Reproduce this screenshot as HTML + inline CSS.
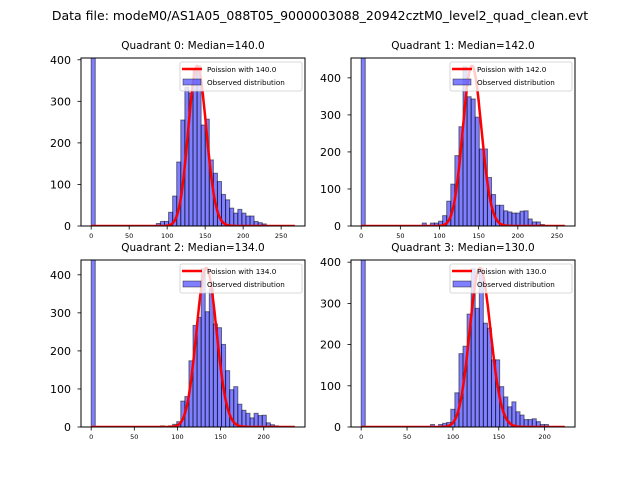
<!DOCTYPE html>
<html><head><meta charset="utf-8"><style>
html,body{margin:0;padding:0;background:#fff;}
svg{display:block;font-family:"DejaVu Sans","Liberation Sans",sans-serif;}
</style></head><body>
<svg id="fig" width="640" height="480" viewBox="0 0 640 480">
<text x="320" y="20" text-anchor="middle" font-size="12.5" fill="#000">Data file: modeM0/AS1A05_088T05_9000003088_20942cztM0_level2_quad_clean.evt</text>
</svg>
<script>
// Observed counts per bin (index = bin number), bin 0 is the huge zero-bin (clipped)
const q0Counts = {0:1500,16:6,17:11,18:11,19:33,20:72,21:154,22:255,23:334,24:320,25:376,26:385,27:243,28:257,29:159,30:127,31:107,32:76,33:63,34:43,35:31,36:40,37:31,38:24,39:24,40:11,41:8,42:5};
const q1Counts = {0:1500,15:8,17:8,18:8,19:13,20:28,21:67,22:113,23:190,24:268,25:430,26:349,27:343,28:294,29:208,30:208,31:131,32:85,33:56,34:56,35:41,36:38,37:35,38:35,39:40,40:41,41:19,42:11,43:11,44:4};
const q2Counts = {0:1500,17:3,19:3,20:7,21:14,22:68,23:80,24:174,25:267,26:288,27:416,28:303,29:363,30:271,31:261,32:217,33:148,34:98,35:106,36:60,37:44,38:36,39:24,40:36,41:30,42:31,43:11,44:6,45:3};
const q3Counts = {0:1500,17:6,19:6,20:9,21:11,22:43,23:83,24:178,25:196,26:274,27:384,28:288,29:384,30:252,31:240,32:163,33:163,34:98,35:73,36:49,37:61,38:37,39:29,40:18,41:18,42:20,43:13,44:6,45:6};
const medians = [140.0, 142.0, 134.0, 130.0];
const dataMax = [268, 260, 236, 222];
const poissonPeak = [385, 432, 418, 386];
const xTickVals = [[0,50,100,150,200,250],[0,50,100,150,200,250],[0,50,100,150,200],[0,50,100,150,200]];
const yTickVals = [[0,100,200,300,400],[0,100,200,300,400],[0,100,200,300,400],[0,100,200,300,400]];
const allCounts = [q0Counts,q1Counts,q2Counts,q3Counts];

const NS = "http://www.w3.org/2000/svg";
const svg = document.getElementById('fig');
const boxes = [[81,58,305,226],[351,58,575,226],[81,260,305,427],[351,260,575,427]];
function mk(tag, attrs, parent){const e=document.createElementNS(NS,tag);for(const k in attrs)e.setAttribute(k,attrs[k]);(parent||svg).appendChild(e);return e;}
function lgam(n){let s=0;for(let i=2;i<=n;i++)s+=Math.log(i);return s;}

for(let q=0;q<4;q++){
  const [L,T,R,B]=boxes[q];
  const dmax=dataMax[q], pad=dmax*0.05;
  const x0=-pad, x1=dmax+pad, ymax=poissonPeak[q]*1.05;
  const xs=v=>L+(v-x0)/(x1-x0)*(R-L);
  const ys=v=>B-v/ymax*(B-T);
  const g=mk('g',{});
  
  
  const cid='clip'+q;
  const cp=mk('clipPath',{id:cid},g); mk('rect',{x:L,y:T,width:R-L,height:B-T},cp);
  const plot=mk('g',{'clip-path':'url(#'+cid+')'},g);
  const bw=dmax/50;
  const counts=allCounts[q];
  for(const k in counts){
    const i=+k, v=counts[k];
    const r=mk('rect',{x:xs(i*bw),y:ys(v),width:xs(bw)-xs(0),height:B-ys(v),fill:'rgba(0,0,255,0.5)',stroke:'rgba(0,0,0,0.5)','stroke-width':1},plot);
    
    
  }
  const m=medians[q]; let pts=[], lp=[], mx=-1e9;
  for(let k=0;k<=dmax;k++){const l=k*Math.log(m)-m-lgam(k);lp.push(l);if(l>mx)mx=l;}
  for(let k=0;k<=dmax;k++){pts.push(xs(k).toFixed(1)+','+ys(poissonPeak[q]*Math.exp(lp[k]-mx)).toFixed(1));}
  const pl=mk('polyline',{points:pts.join(' '),fill:'none',stroke:'#ff0000','stroke-width':2.5,'stroke-linejoin':'round'},plot);
  
  
  const fr=mk('rect',{x:L,y:T,width:R-L,height:B-T,fill:'none',stroke:'#000','stroke-width':1},g);
  
  
  for(const t of xTickVals[q]){
    mk('line',{x1:xs(t),x2:xs(t),y1:B,y2:B+3.5,stroke:'#000','stroke-width':0.8},g);
    const tx=mk('text',{x:xs(t),y:B+12,'text-anchor':'middle','font-size':6.5},g);
    tx.textContent=t;
    
    
  }
  for(const t of yTickVals[q]){
    mk('line',{x1:L-3.5,x2:L,y1:ys(t),y2:ys(t),stroke:'#000','stroke-width':0.8},g);
    const ty=mk('text',{x:L-10,y:ys(t)+4,'text-anchor':'end','font-size':11},g);
    ty.textContent=t;
    
    
  }
  const ti=mk('text',{x:(L+R)/2,y:T-9,'text-anchor':'middle','font-size':10.5},g);
  ti.textContent='Quadrant '+q+': Median='+medians[q].toFixed(1);
  
  
  const lg=mk('g',{},g);
  
  
  const lx=R-125, ly=T+4;
  mk('rect',{x:lx,y:ly,width:122,height:29,rx:2,fill:'rgba(255,255,255,0.8)',stroke:'#ccc','stroke-width':0.8},lg);
  mk('line',{x1:lx+2,x2:lx+22,y1:ly+7,y2:ly+7,stroke:'#ff0000','stroke-width':2.5},lg);
  mk('rect',{x:lx+3,y:ly+17,width:18,height:6,fill:'rgba(0,0,255,0.5)',stroke:'rgba(0,0,0,0.5)','stroke-width':0.8},lg);
  const t1=mk('text',{x:lx+27,y:ly+10,'font-size':7.2},lg); t1.textContent='Poission with '+medians[q].toFixed(1);
  
  
  const t2=mk('text',{x:lx+27,y:ly+23,'font-size':7.2},lg); t2.textContent='Observed distribution';
  
  
}
</script>
</body></html>
